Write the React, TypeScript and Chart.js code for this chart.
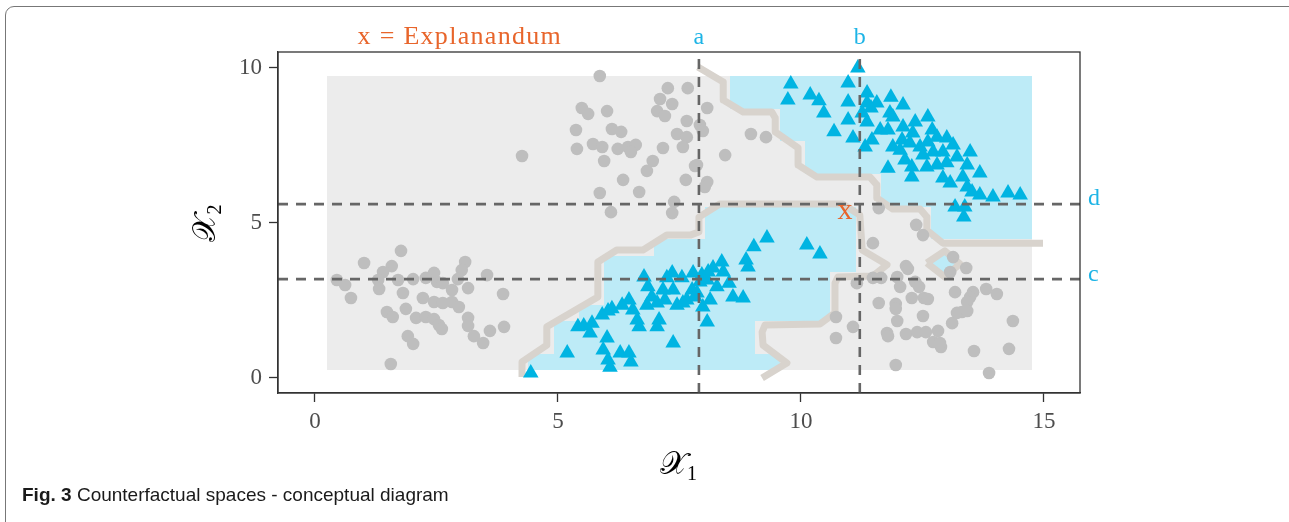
import React, { useEffect, useRef } from "react";
import { Chart, registerables } from "chart.js";

Chart.register(...registerables);

// ---- axes ----
const X_RANGE = [-0.761, 15.741];
const Y_RANGE = [-0.484, 10.516];
const xTicks = [0, 5, 10, 15];
const yTicks = [0, 5, 10];

// ---- prediction grid (28 columns x 18 rows) ----
const gridX = [0.25, 14.75];
const gridY = [0.26, 9.74];
const gridCols = 28;
const gridRows = 18;
// runs of cells predicted as the counterfactual class: [row from bottom, first col, last col]
const blueRuns: [number, number, number][] = [
  [17, 16, 27], [16, 16, 27], [15, 18, 27], [14, 18, 27], [13, 19, 27], [12, 19, 27],
  [11, 22, 27], [10, 22, 27], [9, 15, 20], [9, 24, 27], [8, 15, 20], [8, 24, 27],
  [7, 13, 20], [6, 11, 20], [5, 11, 19], [4, 11, 19], [3, 10, 19], [2, 9, 16],
  [1, 9, 16], [0, 8, 17],
];

// ---- split lines and the explanandum ----
const splitA = 7.9;
const splitB = 11.21;
const splitC = 3.19;
const splitD = 5.61;
const explanandum = [10.905, 5.355];
const headerAt = 2.98;

// ---- decision boundary ----
const boundaryUpper: [number, number][] = [
  [7.88, 10.03], [8.4, 9.55], [8.4, 8.97], [8.81, 8.58], [9.4, 8.58], [9.47, 8.39],
  [9.47, 7.94], [9.94, 7.42], [9.94, 6.87], [10.33, 6.48], [11.42, 6.48], [11.56, 6.23],
  [11.56, 5.81], [11.89, 5.45], [12.45, 5.45], [12.59, 5.19], [12.59, 4.77], [12.92, 4.35],
  [14.98, 4.35],
];
const boundaryLower: [number, number][] = [
  [4.26, 0.03], [4.26, 0.52], [4.77, 1.06], [4.77, 1.65], [5.82, 2.61], [5.82, 3.74],
  [6.21, 4.13], [6.75, 4.13], [7.24, 4.61], [7.72, 4.61], [7.9, 4.71], [7.9, 5.19],
  [8.33, 5.61], [10.86, 5.61], [11.21, 5.26], [11.26, 4.13], [11.77, 3.65], [11.48, 3.29],
  [10.76, 3.26], [10.7, 3.06], [10.7, 2.1], [10.39, 1.74], [9.26, 1.71], [9.2, 1.48],
  [9.22, 1.06], [9.71, 0.48], [9.2, 0.0],
];
const boundaryPocket: [number, number][] = [
  [12.59, 3.71], [12.96, 4.1], [13.27, 3.68], [12.96, 3.26], [12.59, 3.71],
];

// ---- observations ----
const greyPoints: [number, number][] = [
  [1.77, 4.1], [1.01, 3.71], [3.09, 3.74], [1.58, 3.61], [1.4, 3.42], [3.02, 3.48], [2.45, 3.39],
  [3.54, 3.32], [0.45, 3.16], [0.62, 3.0], [1.3, 3.16], [1.71, 3.16], [2.02, 3.19], [2.28, 3.23],
  [2.51, 3.1], [2.63, 3.06], [2.94, 3.19], [3.15, 2.9], [2.82, 2.84], [1.32, 2.87], [1.81, 2.74],
  [3.87, 2.71], [0.74, 2.58], [2.22, 2.58], [2.45, 2.45], [2.63, 2.42], [2.82, 2.45], [2.96, 2.29],
  [1.87, 2.23], [1.48, 2.13], [1.6, 1.97], [2.08, 1.94], [2.28, 1.97], [2.45, 1.9], [2.55, 1.71],
  [2.61, 1.58], [3.15, 1.94], [3.15, 1.68], [3.6, 1.52], [3.89, 1.65], [3.27, 1.35], [3.46, 1.13],
  [1.91, 1.35], [2.02, 1.1], [1.56, 0.45],
  [4.26, 7.16], [5.86, 9.74], [7.26, 9.35], [7.67, 9.35], [5.49, 8.71], [5.62, 8.52], [6.01, 8.61],
  [7.1, 9.0], [7.35, 8.84], [7.04, 8.61], [7.2, 8.45], [7.65, 8.29], [5.37, 8.0], [6.11, 8.03],
  [6.3, 7.94], [5.72, 7.55], [5.91, 7.45], [5.39, 7.39], [6.23, 7.39], [6.44, 7.45], [6.6, 7.52],
  [6.5, 7.29], [7.16, 7.42], [7.45, 7.87], [7.65, 7.77], [7.57, 7.45], [5.95, 7.0], [6.95, 7.0],
  [6.83, 6.68], [7.82, 6.84], [6.34, 6.39], [7.63, 6.39], [6.67, 6.0], [5.86, 5.97], [7.39, 5.68],
  [6.09, 5.35], [7.35, 5.32], [8.07, 8.71], [7.92, 8.16], [7.98, 7.97], [7.86, 6.87], [8.07, 6.32],
  [8.02, 6.16], [8.97, 7.87], [9.28, 7.77], [8.44, 7.19],
  [11.6, 5.48], [12.37, 4.94], [12.51, 4.61], [11.48, 4.35], [13.13, 3.9], [13.4, 3.55], [13.07, 3.42],
  [12.16, 3.61], [12.2, 3.52], [11.98, 3.26], [11.65, 3.23], [11.48, 3.23], [12.35, 3.1], [12.43, 2.94],
  [12.04, 2.94], [11.15, 3.06], [13.17, 2.77], [12.28, 2.58], [12.53, 2.58], [12.61, 2.55], [13.54, 2.77],
  [13.81, 2.87], [14.03, 2.71], [13.48, 2.61], [13.42, 2.45], [11.6, 2.42], [11.95, 2.39], [11.95, 2.23],
  [13.31, 2.13], [13.21, 2.1], [13.42, 2.16], [12.51, 2.0], [11.98, 1.84], [13.11, 1.77], [14.36, 1.84],
  [10.72, 1.97], [11.07, 1.65], [10.72, 1.29], [11.77, 1.45], [12.16, 1.42], [12.39, 1.48], [12.57, 1.48],
  [12.82, 1.52], [11.79, 1.35], [12.72, 1.16], [12.88, 1.0], [12.86, 1.13], [13.56, 0.87], [14.28, 0.94],
  [11.95, 0.42], [13.87, 0.16],
];

const bluePoints: [number, number][] = [
  [4.44, 0.16], [5.19, 0.81], [5.41, 1.65], [5.53, 1.68], [5.66, 1.45], [5.7, 1.77], [5.91, 2.03],
  [6.03, 2.16], [6.11, 2.23], [6.01, 1.29], [5.93, 0.9], [6.03, 0.58], [6.07, 0.35], [6.28, 0.81],
  [6.46, 0.81], [6.5, 0.52], [6.32, 2.35], [6.46, 2.52], [6.54, 2.19], [6.63, 1.87], [6.67, 1.65],
  [6.77, 3.26], [6.85, 2.94], [6.93, 2.61], [6.83, 2.35], [7.04, 2.42], [7.04, 1.65], [7.08, 1.87],
  [7.16, 2.84], [7.2, 2.52], [7.24, 3.23], [7.35, 3.39], [7.37, 2.84], [7.45, 2.35], [7.55, 3.23],
  [7.65, 2.52], [7.76, 2.84], [7.78, 3.39], [7.96, 3.32], [8.07, 3.16], [7.98, 2.29], [8.07, 1.81],
  [7.37, 1.13], [7.82, 2.61], [8.19, 3.55], [8.27, 2.94], [9.3, 4.52], [9.03, 4.23], [8.87, 3.81],
  [8.91, 3.58], [10.12, 4.29], [10.39, 4.0], [8.37, 3.74], [8.09, 3.42], [8.4, 3.42], [8.52, 3.06],
  [8.6, 2.61], [8.81, 2.58], [7.86, 2.74], [8.13, 2.52], [7.57, 2.42], [7.92, 3.1],
  [11.17, 10.0], [9.79, 9.48], [9.73, 8.97], [10.19, 9.13], [10.37, 8.94], [10.47, 8.55], [10.97, 9.52],
  [10.97, 8.9], [10.97, 8.32], [10.68, 7.94], [11.07, 7.74], [11.32, 7.45], [11.36, 9.19], [11.36, 8.87],
  [11.56, 8.87], [11.26, 8.55], [11.44, 8.71], [11.36, 8.26], [11.85, 9.06], [12.1, 8.81], [11.83, 8.55],
  [11.89, 8.42], [11.63, 8.0], [11.79, 8.0], [11.46, 7.68], [12.1, 8.1], [12.35, 8.26], [12.61, 8.42],
  [12.3, 7.9], [12.7, 8.0], [12.08, 7.68], [11.89, 7.45], [12.04, 7.35], [12.24, 7.58], [12.45, 7.45],
  [12.61, 7.61], [12.8, 7.77], [13.0, 7.74], [13.13, 7.52], [12.51, 7.19], [12.72, 7.29], [12.92, 7.29],
  [13.21, 7.13], [13.48, 7.29], [12.14, 7.03], [11.79, 6.77], [12.28, 6.81], [12.59, 6.81], [12.8, 6.87],
  [13.0, 6.94], [13.42, 6.87], [12.28, 6.48], [12.92, 6.45], [13.07, 6.29], [13.68, 6.61], [13.33, 6.48],
  [13.42, 6.16], [13.52, 6.0], [13.68, 5.9], [13.95, 5.84], [14.26, 5.97], [14.51, 5.9], [13.17, 5.52],
  [13.37, 5.52], [13.35, 5.19],
];

// ---- palette ----
const GREY_CELL = "#ECECEC";
const BLUE_CELL = "#BDEBF7";
const GREY_POINT = "#BEBEBE";
const BLUE_POINT = "#00B4E2";
const BOUNDARY = "#D8D3CD";
const SPLIT = "#666666";
const ORANGE = "#E8652B";
const BLUE_TEXT = "#1DB4E6";
const INK = "#333333";
const SERIF = "'Liberation Serif', 'DejaVu Serif', serif";

const toXY = (pts: [number, number][]) => pts.map(([x, y]) => ({ x, y }));

const cellsPlugin = {
  id: "predictionCells",
  beforeDatasetsDraw(chart: any) {
    const { ctx } = chart;
    const xs = chart.scales.x;
    const ys = chart.scales.y;
    const cw = (gridX[1] - gridX[0]) / gridCols;
    const ch = (gridY[1] - gridY[0]) / gridRows;
    const px = (v: number) => Math.round(xs.getPixelForValue(v));
    const py = (v: number) => Math.round(ys.getPixelForValue(v));
    ctx.save();
    ctx.fillStyle = GREY_CELL;
    ctx.fillRect(px(gridX[0]), py(gridY[1]), px(gridX[1]) - px(gridX[0]), py(gridY[0]) - py(gridY[1]));
    ctx.fillStyle = BLUE_CELL;
    for (const [row, c0, c1] of blueRuns) {
      const l = px(gridX[0] + c0 * cw);
      const r = px(gridX[0] + (c1 + 1) * cw);
      const t = py(gridY[0] + (row + 1) * ch);
      const b = py(gridY[0] + row * ch);
      ctx.fillRect(l, t, r - l, b - t);
    }
    // small enclosed pocket of the counterfactual class
    ctx.beginPath();
    boundaryPocket.forEach(([x, y], i) => {
      const X = xs.getPixelForValue(x);
      const Y = ys.getPixelForValue(y);
      if (i === 0) ctx.moveTo(X, Y);
      else ctx.lineTo(X, Y);
    });
    ctx.closePath();
    ctx.fill();
    ctx.restore();
  },
};

const drawAxisSymbol = (ctx: CanvasRenderingContext2D, sub: string, cx: number, baseline: number) => {
  ctx.font = `32px ${SERIF}`;
  const main = "\u{1D4B3}";
  const wMain = ctx.measureText(main).width;
  ctx.font = `20px ${SERIF}`;
  const wSub = ctx.measureText(sub).width;
  const start = cx - (wMain + wSub) / 2;
  ctx.textAlign = "left";
  ctx.textBaseline = "alphabetic";
  ctx.font = `32px ${SERIF}`;
  ctx.fillText(main, start, baseline);
  ctx.font = `20px ${SERIF}`;
  ctx.fillText(sub, start + wMain - 1, baseline + 6);
};

const annotationsPlugin = {
  id: "annotations",
  afterDatasetsDraw(chart: any) {
    const { ctx, chartArea } = chart;
    ctx.save();
    ctx.strokeStyle = INK;
    ctx.lineWidth = 1.3;
    ctx.strokeRect(chartArea.left, chartArea.top, chartArea.right - chartArea.left, chartArea.bottom - chartArea.top);
    ctx.restore();
  },
  afterDraw(chart: any) {
    const { ctx, chartArea } = chart;
    const xs = chart.scales.x;
    const ys = chart.scales.y;
    ctx.save();
    // explanandum marker
    ctx.fillStyle = ORANGE;
    ctx.font = `30px ${SERIF}`;
    ctx.textAlign = "center";
    ctx.textBaseline = "alphabetic";
    ctx.fillText("x", xs.getPixelForValue(explanandum[0]), ys.getPixelForValue(explanandum[1]) + 7);
    // header
    ctx.font = `26px ${SERIF}`;
    (ctx as any).letterSpacing = "1.3px";
    ctx.fillText("x = Explanandum", xs.getPixelForValue(headerAt), chartArea.top - 8);
    (ctx as any).letterSpacing = "0px";
    // split labels
    ctx.fillStyle = BLUE_TEXT;
    ctx.font = `24px ${SERIF}`;
    ctx.fillText("a", xs.getPixelForValue(splitA), chartArea.top - 8);
    ctx.fillText("b", xs.getPixelForValue(splitB), chartArea.top - 8);
    ctx.textAlign = "left";
    ctx.fillText("d", chartArea.right + 8, ys.getPixelForValue(splitD) + 1);
    ctx.fillText("c", chartArea.right + 8, ys.getPixelForValue(splitC) + 2);
    // axis titles
    ctx.fillStyle = "#000000";
    drawAxisSymbol(ctx, "1", (chartArea.left + chartArea.right) / 2, 474);
    ctx.translate(215, (chartArea.top + chartArea.bottom) / 2);
    ctx.rotate(-Math.PI / 2);
    drawAxisSymbol(ctx, "2", 0, 0);
    ctx.restore();
  },
};

const axisCommon = {
  type: "linear" as const,
  grid: { display: true, drawOnChartArea: false, drawTicks: true, tickLength: 9, tickColor: INK, tickWidth: 1.3 },
  border: { display: true, color: INK, width: 1.3 },
};

export default function App() {
  const canvasRef = useRef<HTMLCanvasElement | null>(null);

  useEffect(() => {
    if (!canvasRef.current) return;
    const chart = new Chart(canvasRef.current, {
      type: "scatter",
      data: {
        datasets: [
          {
            label: "split a",
            type: "line",
            data: [{ x: splitA, y: Y_RANGE[0] }, { x: splitA, y: Y_RANGE[1] }],
            borderColor: SPLIT, borderWidth: 2.6, borderDash: [10, 8], pointRadius: 0, fill: false, order: 1,
          },
          {
            label: "split b",
            type: "line",
            data: [{ x: splitB, y: Y_RANGE[0] }, { x: splitB, y: Y_RANGE[1] }],
            borderColor: SPLIT, borderWidth: 2.6, borderDash: [10, 8], pointRadius: 0, fill: false, order: 1,
          },
          {
            label: "split c",
            type: "line",
            data: [{ x: X_RANGE[0], y: splitC }, { x: X_RANGE[1], y: splitC }],
            borderColor: SPLIT, borderWidth: 2.6, borderDash: [10, 8], pointRadius: 0, fill: false, order: 1,
          },
          {
            label: "split d",
            type: "line",
            data: [{ x: X_RANGE[0], y: splitD }, { x: X_RANGE[1], y: splitD }],
            borderColor: SPLIT, borderWidth: 2.6, borderDash: [10, 8], pointRadius: 0, fill: false, order: 1,
          },
          {
            label: "counterfactual class",
            data: toXY(bluePoints),
            pointStyle: "triangle", pointRadius: 9, pointBackgroundColor: BLUE_POINT, pointBorderWidth: 0,
            order: 2,
          },
          {
            label: "explanandum class",
            data: toXY(greyPoints),
            pointStyle: "circle", pointRadius: 6.3, pointBackgroundColor: GREY_POINT, pointBorderWidth: 0,
            order: 3,
          },
          ...[boundaryUpper, boundaryLower, boundaryPocket].map((pts, i) => ({
            label: `boundary ${i}`,
            type: "line" as const,
            data: toXY(pts),
            borderColor: BOUNDARY, borderWidth: 7, borderJoinStyle: "round" as const, borderCapStyle: "butt" as const,
            pointRadius: 0, fill: false, tension: 0, order: 4,
          })),
        ],
      },
      options: {
        animation: false,
        responsive: false,
        devicePixelRatio: 1,
        events: [],
        layout: { padding: { left: 208, right: 209, top: 52, bottom: 69 } },
        plugins: { legend: { display: false }, tooltip: { enabled: false } },
        scales: {
          x: {
            ...axisCommon,
            min: X_RANGE[0],
            max: X_RANGE[1],
            afterBuildTicks: (s: any) => { s.ticks = xTicks.map((v) => ({ value: v })); },
            afterFit: (s: any) => { s.height = 60; },
            ticks: { color: "#4D4D4D", font: { family: SERIF, size: 23 }, padding: 6, maxRotation: 0, autoSkip: false },
          },
          y: {
            ...axisCommon,
            min: Y_RANGE[0],
            max: Y_RANGE[1],
            afterBuildTicks: (s: any) => { s.ticks = yTicks.map((v) => ({ value: v })); },
            afterFit: (s: any) => { s.width = 70; },
            ticks: { color: "#4D4D4D", font: { family: SERIF, size: 23 }, padding: 7, autoSkip: false },
          },
        },
      },
      plugins: [cellsPlugin, annotationsPlugin],
    } as any);
    return () => chart.destroy();
  }, []);

  return (
    <div style={{ position: "fixed", left: 0, top: 0, width: 1289, height: 522, overflow: "hidden", background: "#ffffff" }}>
      <div
        style={{
          position: "absolute", left: 5, top: 6, width: 1400, height: 700,
          border: "1.5px solid #777777", borderRadius: 9,
        }}
      />
      <canvas ref={canvasRef} width={1289} height={522} style={{ position: "absolute", left: 0, top: 0, width: 1289, height: 522 }} />
      <div
        style={{
          position: "absolute", left: 22, top: 484, whiteSpace: "nowrap",
          fontFamily: "'Liberation Sans Narrow', 'Liberation Sans', sans-serif", fontSize: 19, color: "#1a1a1a",
        }}
      >
        <b>Fig. 3</b> Counterfactual spaces - conceptual diagram
      </div>
    </div>
  );
}
